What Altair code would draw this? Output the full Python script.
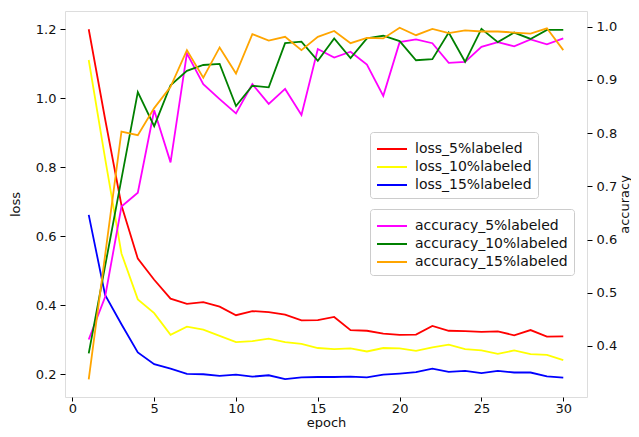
import altair as alt
import pandas as pd

epochs = list(range(1, 31))

loss_5 = [1.20, 0.94, 0.69, 0.535, 0.474, 0.419, 0.404, 0.409, 0.396, 0.371,
          0.383, 0.380, 0.373, 0.356, 0.357, 0.366, 0.328, 0.326, 0.318, 0.314,
          0.315, 0.340, 0.326, 0.325, 0.323, 0.324, 0.313, 0.328, 0.309, 0.310]
loss_10 = [1.111, 0.826, 0.55, 0.417, 0.377, 0.314, 0.338, 0.329, 0.311, 0.293,
           0.296, 0.303, 0.293, 0.288, 0.276, 0.273, 0.275, 0.266, 0.276, 0.275,
           0.268, 0.278, 0.286, 0.273, 0.269, 0.259, 0.269, 0.258, 0.256, 0.241]
loss_15 = [0.662, 0.430, 0.345, 0.263, 0.229, 0.216, 0.201, 0.200, 0.195, 0.199,
           0.193, 0.197, 0.186, 0.191, 0.192, 0.192, 0.193, 0.191, 0.199, 0.202,
           0.206, 0.216, 0.207, 0.210, 0.203, 0.210, 0.205, 0.205, 0.194, 0.190]

acc_5 = [0.412, 0.492, 0.662, 0.688, 0.843, 0.745, 0.950, 0.892, 0.864, 0.837,
         0.892, 0.855, 0.883, 0.834, 0.958, 0.942, 0.953, 0.929, 0.870, 0.971,
         0.976, 0.969, 0.932, 0.934, 0.962, 0.971, 0.963, 0.976, 0.967, 0.978]
acc_10 = [0.386, 0.55, 0.714, 0.877, 0.813, 0.890, 0.917, 0.928, 0.930, 0.851,
          0.889, 0.886, 0.969, 0.972, 0.936, 0.978, 0.941, 0.978, 0.983, 0.973,
          0.937, 0.939, 0.989, 0.934, 0.996, 0.971, 0.989, 0.977, 0.994, 0.994]
acc_15 = [0.337, 0.57, 0.803, 0.796, 0.847, 0.887, 0.956, 0.904, 0.961, 0.912,
          0.986, 0.974, 0.981, 0.956, 0.981, 0.992, 0.969, 0.979, 0.978, 0.998,
          0.984, 0.996, 0.988, 0.993, 0.991, 0.991, 0.989, 0.987, 0.997, 0.956]

loss_names = ["loss_5%labeled", "loss_10%labeled", "loss_15%labeled"]
loss_colors = ["#ff0000", "#ffff00", "#0000ff"]
acc_names = ["accuracy_5%labeled", "accuracy_10%labeled", "accuracy_15%labeled"]
acc_colors = ["#ff00ff", "#008000", "#ffa500"]

loss_rows = []
for name, vals in zip(loss_names, [loss_5, loss_10, loss_15]):
    for e, v in zip(epochs, vals):
        loss_rows.append({"epoch": e, "value": v, "series": name})
acc_rows = []
for name, vals in zip(acc_names, [acc_5, acc_10, acc_15]):
    for e, v in zip(epochs, vals):
        acc_rows.append({"epoch": e, "value": v, "series": name})
loss_df = pd.DataFrame(loss_rows)
acc_df = pd.DataFrame(acc_rows)

FONT = "DejaVu Sans"
W, H = 522, 386

x_enc = alt.X("epoch:Q",
              scale=alt.Scale(domain=[-0.45, 31.45], nice=False, zero=False),
              axis=alt.Axis(values=[0, 5, 10, 15, 20, 25, 30], title="epoch",
                            grid=False, domain=False, tickSize=4, tickColor="black",
                            labelFontSize=13, labelColor="#111", labelPadding=1,
                            labelFont=FONT, titleFont=FONT, titleFontSize=13,
                            titleFontWeight="normal", titleColor="#111",
                            titleX=W / 2, titleY=25, titleBaseline="middle"))

legend_common = dict(
    orient="none", symbolType="M-1.5,0H1.5", symbolSize=400, symbolStrokeWidth=2,
    symbolOffset=5, labelFontSize=14, labelFont=FONT, labelColor="#111",
    labelOffset=12, fillColor="white", strokeColor="#cccccc", cornerRadius=3,
    padding=6, rowPadding=0, title=None,
)

loss_chart = alt.Chart(loss_df).mark_line(strokeWidth=1.8).encode(
    x=x_enc,
    y=alt.Y("value:Q",
            scale=alt.Scale(domain=[0.134, 1.253], nice=False, zero=False),
            axis=alt.Axis(values=[0.2, 0.4, 0.6, 0.8, 1.0, 1.2], format=".1f",
                          title="loss", orient="left", grid=False, domain=False,
                          tickSize=5, tickColor="black", labelFontSize=13,
                          labelColor="#111", labelPadding=4, labelFont=FONT,
                          titleFont=FONT, titleFontSize=13, titleFontWeight="normal",
                          titleColor="#111", titleAngle=270, titleX=-50,
                          titleY=H / 2, titleBaseline="middle", titleAlign="center")),
    color=alt.Color("series:N",
                    scale=alt.Scale(domain=loss_names, range=loss_colors),
                    legend=alt.Legend(legendX=305, legendY=121, **legend_common)),
    detail="series:N",
)

acc_chart = alt.Chart(acc_df).mark_line(strokeWidth=1.8).encode(
    x=x_enc,
    y=alt.Y("value:Q",
            scale=alt.Scale(domain=[0.304, 1.0295], nice=False, zero=False),
            axis=alt.Axis(values=[0.4, 0.5, 0.6, 0.7, 0.8, 0.9, 1.0], format=".1f",
                          title="accuracy", orient="right", grid=False, domain=False,
                          tickSize=5, tickColor="black", labelFontSize=13,
                          labelColor="#111", labelPadding=4, labelFont=FONT,
                          titleFont=FONT, titleFontSize=13, titleFontWeight="normal",
                          titleColor="#111", titleAngle=270, titleX=37,
                          titleY=H / 2, titleBaseline="middle", titleAlign="center")),
    color=alt.Color("series:N",
                    scale=alt.Scale(domain=acc_names, range=acc_colors),
                    legend=alt.Legend(legendX=305, legendY=198, **legend_common)),
    detail="series:N",
)

chart = alt.layer(loss_chart, acc_chart).resolve_scale(
    y="independent", color="independent"
).properties(
    width=W, height=H,
    autosize=alt.AutoSizeParams(type="none"),
    padding={"left": 57, "top": 3, "right": 44, "bottom": 32},
).configure_view(
    stroke="#111", strokeWidth=1.2
).configure(background="white")

chart.save("out.html", embed_options={"renderer": "svg", "actions": False})
